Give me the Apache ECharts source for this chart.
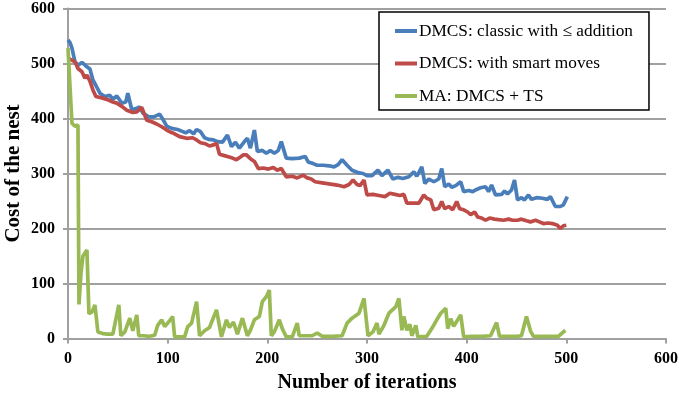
<!DOCTYPE html>
<html>
<head>
<meta charset="utf-8">
<script src="https://cdn.jsdelivr.net/npm/echarts@6/dist/echarts.min.js"></script>
<style>
  html, body { margin: 0; padding: 0; background: #fff; }
  #chart { width: 679px; height: 393px; }
</style>
</head>
<body>
<div id="chart"></div>
<script>
// values, as [iteration, cost]
const seriesNames = ['DMCS: classic with \u2264 addition', 'DMCS: with smart moves', 'MA: DMCS + TS'];

const classicData = [
  [0,543],[2,538],[4,528],[7,503],[10,497],[14,502],[19,494],[22,490],[25,470],[28,460],[32,446],[37,440],
  [42,442],[45,435],[49,441],[54,428],[58,430],[60,446],[64,416],[68,418],[72,421],[75,410],[81,403],[86,403],
  [92,408],[96,396],[99,386],[104,382],[110,380],[114,377],[118,374],[122,378],[126,372],[129,380],[133,376],
  [137,365],[141,362],[146,361],[150,358],[155,357],[160,370],[164,349],[168,357],[172,346],[177,358],[180,364],
  [183,346],[187,379],[190,340],[195,342],[199,337],[203,342],[207,337],[211,342],[214,358],[219,328],[225,327],
  [232,328],[238,331],[241,321],[246,318],[250,315],[256,315],[262,314],[267,312],[271,316],[275,325],[280,315],
  [285,306],[292,301],[296,300],[300,296],[305,296],[311,306],[315,296],[321,306],[326,290],[331,293],[336,291],
  [342,294],[347,303],[350,295],[355,312],[358,282],[362,290],[367,285],[372,290],[375,309],[378,276],[382,281],
  [385,275],[389,278],[394,285],[397,267],[402,269],[406,267],[410,271],[414,274],[419,276],[422,267],[425,279],
  [429,261],[435,262],[438,268],[441,263],[445,270],[448,288],[451,252],[455,256],[458,252],[462,261],[465,253],
  [470,256],[476,255],[481,253],[484,258],[489,240],[494,240],[497,243],[501,258]
];

const smartData = [
  [0,510],[2,507],[7,503],[10,491],[14,485],[17,473],[19,479],[22,468],[25,452],[28,440],[35,437],[40,434],
  [45,430],[49,428],[54,422],[59,415],[65,411],[69,412],[74,420],[79,397],[84,394],[89,390],[94,385],[99,379],
  [103,375],[106,373],[112,367],[119,364],[125,365],[129,361],[133,356],[138,354],[142,350],[146,352],[149,355],
  [152,335],[156,333],[160,331],[165,328],[169,325],[173,330],[176,334],[179,334],[183,327],[187,322],[191,309],
  [196,310],[201,308],[206,311],[210,306],[214,309],[219,294],[225,295],[230,292],[236,297],[240,292],[244,290],
  [248,285],[255,283],[262,281],[270,279],[277,276],[282,280],[286,288],[290,280],[293,278],[297,288],[300,261],
  [306,262],[312,260],[318,258],[323,264],[328,262],[333,260],[337,262],[340,246],[346,246],[352,246],[357,261],
  [360,255],[364,252],[367,234],[372,237],[375,249],[378,236],[382,240],[386,234],[390,249],[393,236],[397,234],
  [401,230],[404,225],[408,230],[411,221],[415,219],[419,215],[423,219],[428,217],[432,216],[437,215],[442,217],
  [446,215],[451,215],[455,217],[460,214],[464,212],[469,215],[473,212],[477,209],[482,210],[486,209],[491,206],
  [494,200],[497,205],[500,206]
];

const maData = [
  [0,528],[2,458],[4,391],[7,386],[10,388],[11,62],[13,118],[15,150],[19,161],[21,45],[24,48],[27,61],[30,12],
  [35,9],[40,8],[45,8],[47,10],[51,61],[53,5],[57,12],[62,37],[65,14],[69,43],[71,5],[76,5],[82,4],[87,6],
  [90,24],[94,34],[97,22],[101,30],[105,40],[107,3],[112,3],[117,3],[120,21],[124,28],[129,67],[132,5],[137,14],
  [142,20],[149,52],[154,3],[159,34],[162,20],[166,30],[170,8],[175,37],[180,5],[183,15],[187,34],[192,40],
  [195,67],[199,76],[202,88],[204,5],[207,12],[212,34],[215,18],[219,3],[225,3],[230,28],[232,5],[240,5],
  [245,5],[250,10],[255,4],[265,4],[275,5],[280,28],[285,37],[292,46],[297,73],[299,76],[301,5],[306,12],
  [310,28],[312,8],[317,24],[322,46],[329,58],[332,73],[335,15],[337,40],[340,15],[343,26],[345,5],[349,24],
  [351,3],[360,4],[365,18],[370,34],[374,46],[379,55],[381,18],[384,36],[387,22],[394,43],[397,3],[405,4],
  [415,4],[424,5],[430,29],[433,4],[440,4],[450,4],[455,5],[460,40],[464,14],[467,4],[475,4],[485,4],[492,4],
  [499,15]
];

const colors = ['#4a7ebb', '#be4b48', '#98b954'];
const serif = '"Liberation Serif", "DejaVu Serif", serif';
const gray = '#a0a0a0';

const chart = echarts.init(document.getElementById('chart'));

const axisCommon = {
  min: 0,
  max: 600,
  interval: 100,
  axisLine: { show: true, lineStyle: { color: gray, width: 2 } },
  axisTick: { show: true, length: 5, lineStyle: { color: gray, width: 2 } },
  splitLine: { show: false },
  nameLocation: 'middle',
  nameMoveOverlap: false,
  nameTextStyle: { fontFamily: serif, fontWeight: 'bold', fontSize: 20, color: '#000' }
};

chart.setOption({
  animation: false,
  color: colors,
  grid: { left: 68, right: 13, top: 8.5, bottom: 54.5, containLabel: false, outerBoundsMode: 'none' },
  legend: {
    data: seriesNames,
    orient: 'vertical',
    left: 379,
    top: 12,
    backgroundColor: '#fff',
    borderColor: '#000',
    borderWidth: 1.5,
    padding: [10, 16, 5, 16],
    icon: 'rect',
    itemWidth: 22,
    itemHeight: 4,
    itemGap: 14.5,
    textStyle: { fontFamily: serif, fontSize: 17.3, color: '#000', lineHeight: 18, padding: [0, 0, 0, -3] }
  },
  xAxis: Object.assign({}, axisCommon, {
    type: 'value',
    name: 'Number of iterations',
    nameGap: 34,
    axisLabel: { margin: 12, fontFamily: serif, fontWeight: 'bold', fontSize: 16, color: '#000' }
  }),
  yAxis: Object.assign({}, axisCommon, {
    type: 'value',
    name: 'Cost of the nest',
    nameGap: 44,
    nameTextStyle: { fontFamily: serif, fontWeight: 'bold', fontSize: 21, color: '#000' },
    splitLine: { show: true, lineStyle: { color: gray, width: 2 } },
    axisLabel: { margin: 13, fontFamily: serif, fontWeight: 'bold', fontSize: 16, color: '#000' }
  }),
  series: [
    { name: seriesNames[0], type: 'line', data: classicData, showSymbol: false, lineStyle: { width: 3.7 }, z: 3 },
    { name: seriesNames[1], type: 'line', data: smartData, showSymbol: false, lineStyle: { width: 3.7 }, z: 4 },
    { name: seriesNames[2], type: 'line', data: maData, showSymbol: false, lineStyle: { width: 3.7 }, z: 5 }
  ]
});
</script>
</body>
</html>
